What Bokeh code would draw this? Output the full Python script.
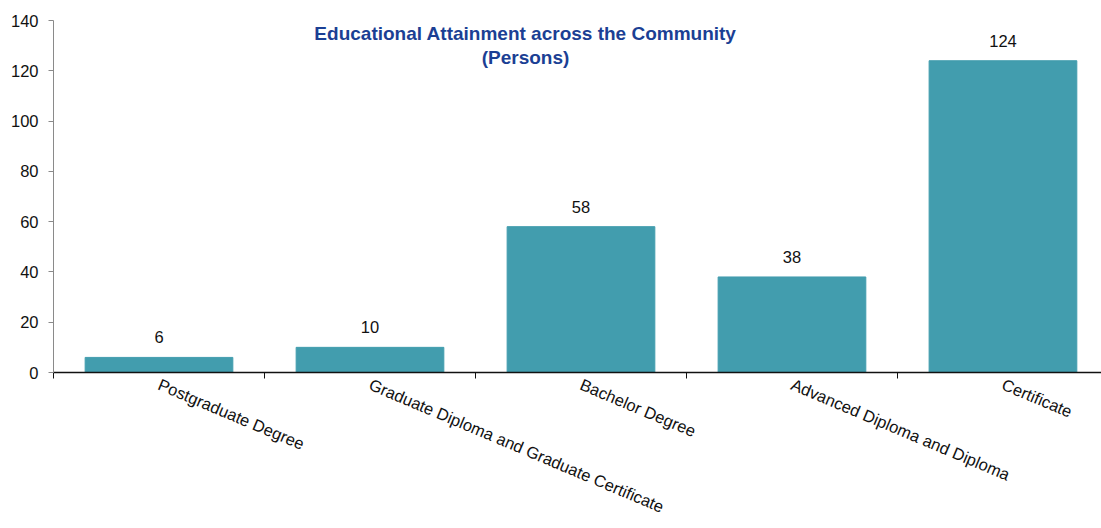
import numpy as np
from bokeh.plotting import figure
from bokeh.models import Range1d, FixedTicker, Label, ColumnDataSource
from bokeh.core.properties import value
from bokeh.embed import file_html
from bokeh.resources import INLINE

categories = ["Postgraduate Degree", "Graduate Diploma and Graduate Certificate",
              "Bachelor Degree", "Advanced Diploma and Diploma", "Certificate"]
persons = [6, 10, 58, 38, 124]
y_ticks = [0, 20, 40, 60, 80, 100, 120, 140]
title_line1 = "Educational Attainment across the Community"
title_line2 = "(Persons)"

FONT = "Liberation Sans"
BAR = "#429DAE"

idx = np.arange(len(categories))
centers = idx + 0.5
src = ColumnDataSource(dict(x=centers, top=persons, lbl=[str(v) for v in persons]))

p = figure(width=1101, height=528, output_backend="svg", toolbar_location=None,
           x_range=Range1d(0, len(categories) - 0.033), y_range=Range1d(0, 140),
           min_border_top=20, min_border_left=53, min_border_right=0, min_border_bottom=156)
p.outline_line_color = None
p.xgrid.visible = False
p.ygrid.visible = False

p.vbar(x="x", top="top", width=0.7, source=src, fill_color=BAR, line_color=BAR)
p.text(x="x", y="top", text="lbl", source=src, text_align="center", text_baseline="middle",
       y_offset=-20, text_font=value(FONT), text_font_size="16.5px", text_color="#111111")

# y axis
ya = p.yaxis[0]
ya.ticker = FixedTicker(ticks=y_ticks, minor_ticks=[])
ya.axis_line_color = "#8a8a8a"
ya.major_tick_line_color = "#8a8a8a"
ya.major_tick_out = 5
ya.major_tick_in = 0
ya.major_label_standoff = 10
ya.major_label_text_font = FONT
ya.major_label_text_font_size = "16.5px"
ya.major_label_text_color = "#111111"

# x axis
xa = p.xaxis[0]
xa.ticker = FixedTicker(ticks=list(centers), minor_ticks=list(np.arange(len(categories) + 1)))
xa.major_label_overrides = {float(c): n for c, n in zip(centers, categories)}
xa.major_tick_out = 0
xa.major_tick_in = 0
xa.minor_tick_out = 6
xa.minor_tick_in = 0
xa.minor_tick_line_color = "#111111"
xa.axis_line_color = "#111111"
xa.axis_line_width = 1.5
xa.major_label_orientation = -0.4
xa.major_label_standoff = 5
xa.major_label_text_font = FONT
xa.major_label_text_font_size = "16.5px"
xa.major_label_text_color = "#111111"

for txt, yy in [(title_line1, 339), (title_line2, 315)]:
    p.add_layout(Label(x=472, y=yy, x_units="screen", y_units="screen", text=txt,
                       text_align="center", text_baseline="middle", text_font=FONT,
                       text_font_size="19px", text_font_style="bold", text_color="#1B3F94"))

open("out.html", "w").write(file_html(p, INLINE))
